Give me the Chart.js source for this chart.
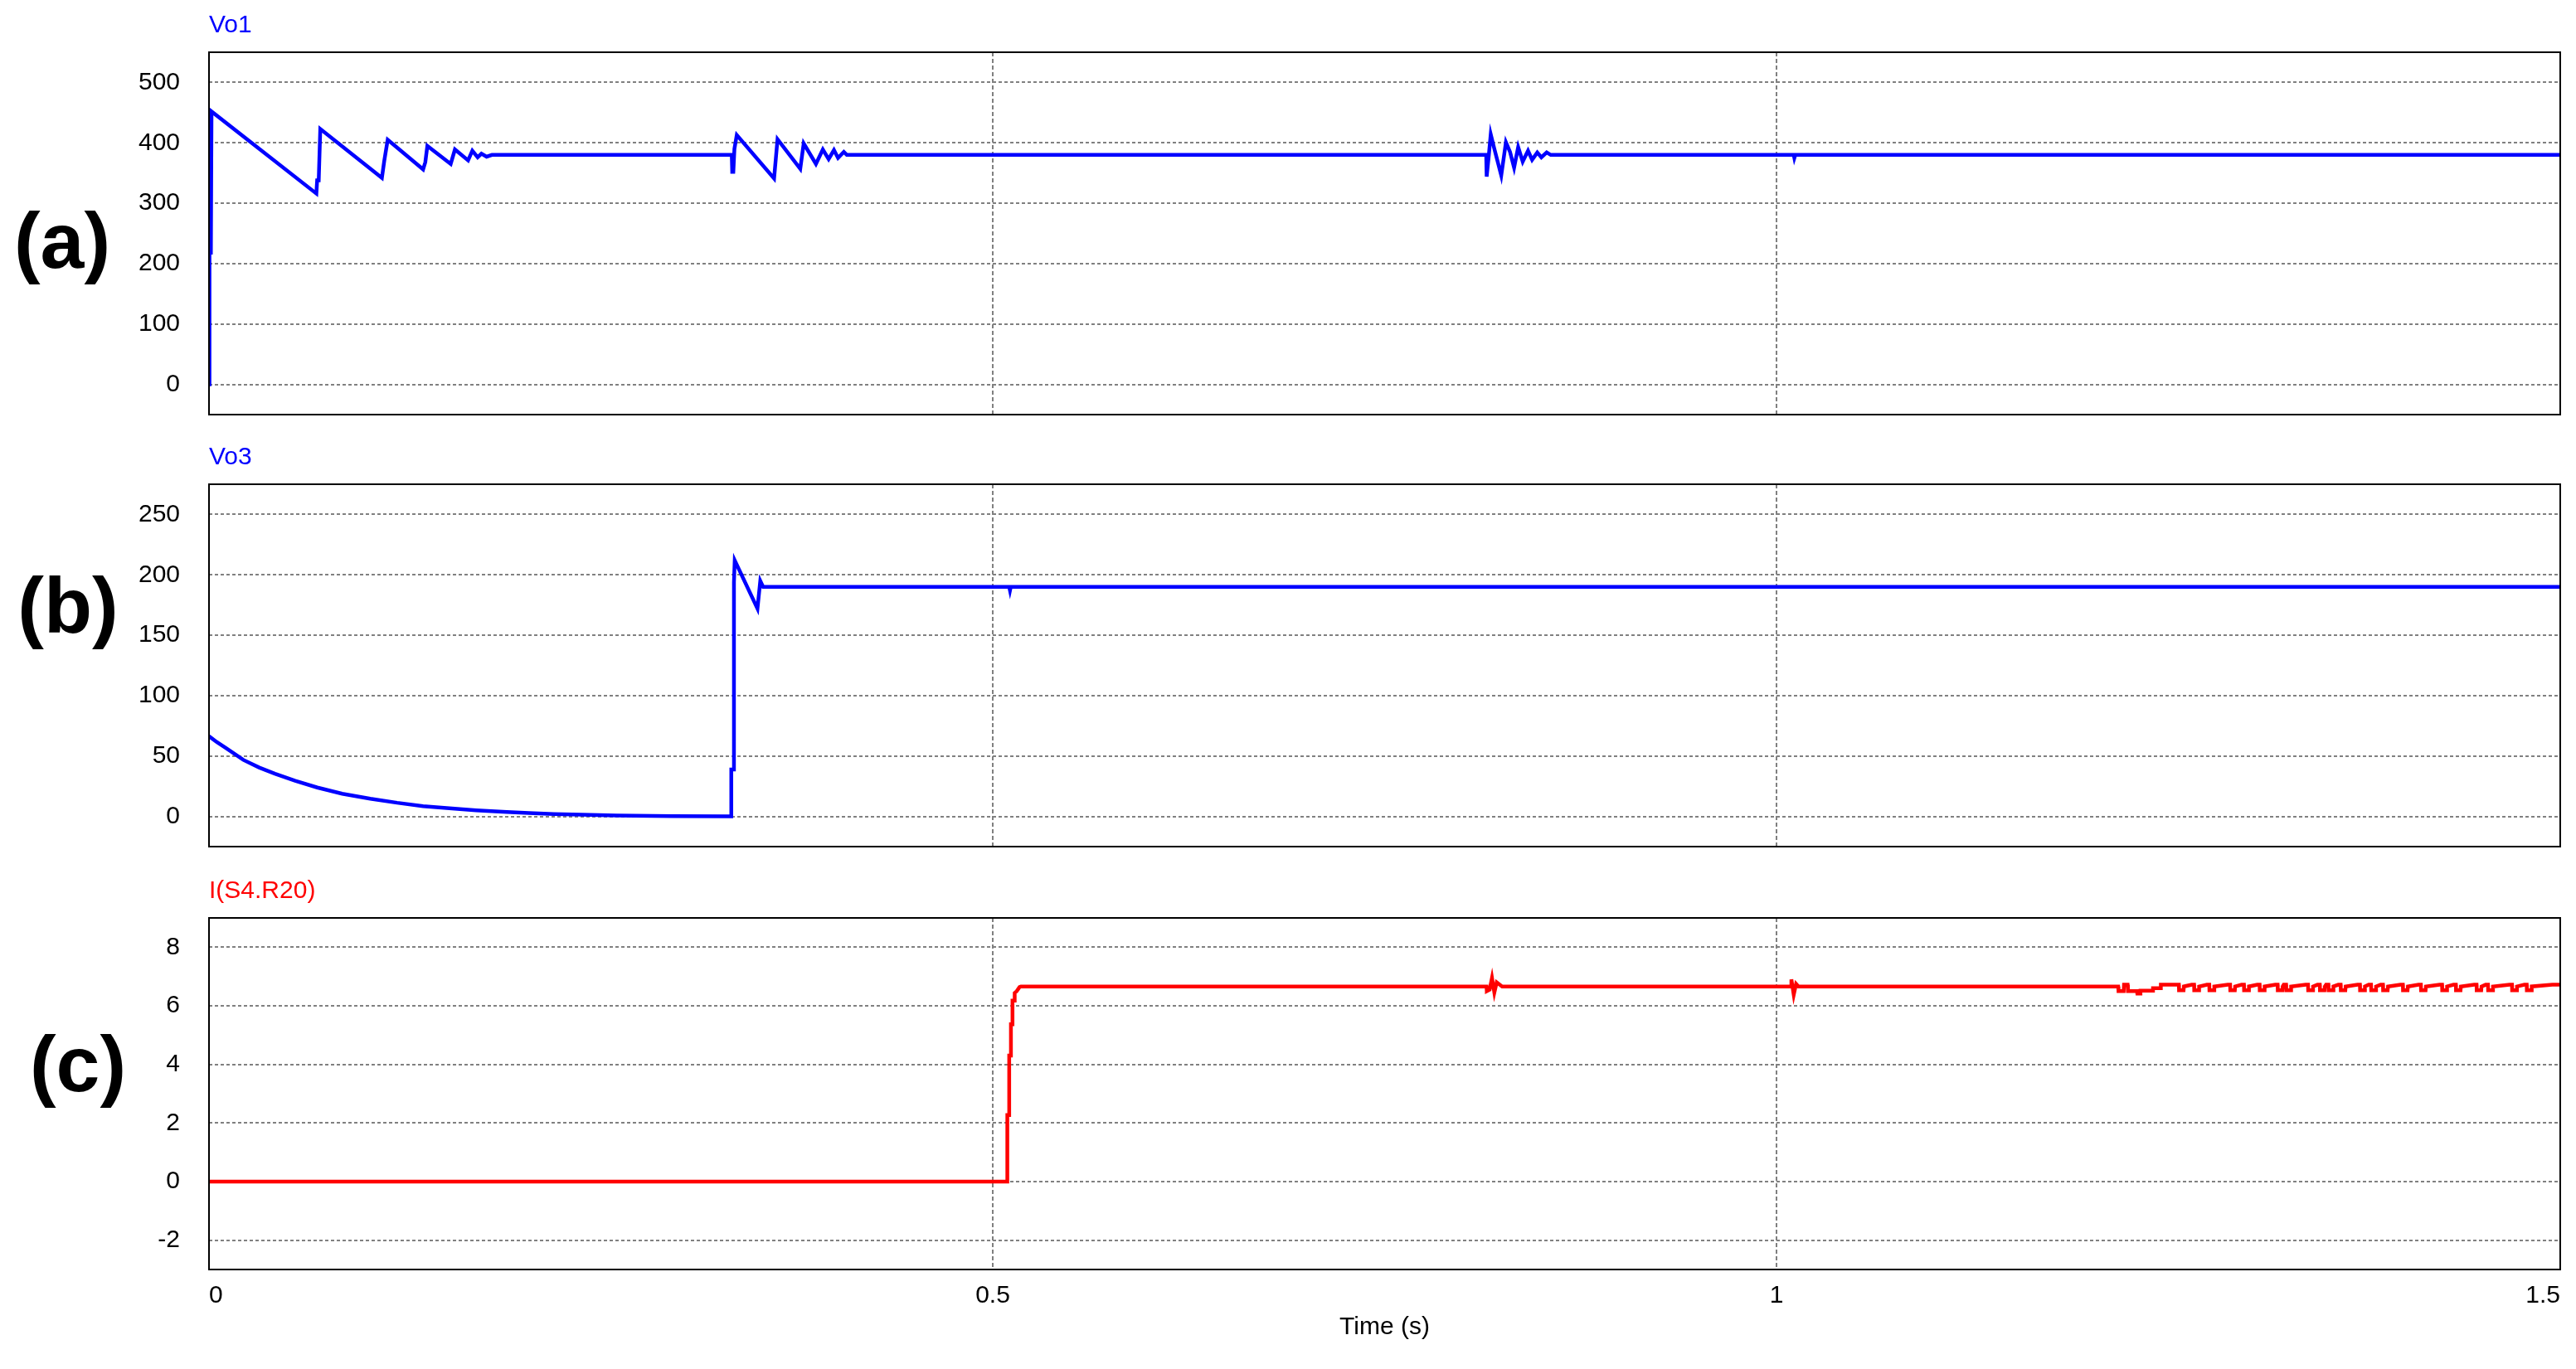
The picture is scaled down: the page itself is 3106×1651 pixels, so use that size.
<!DOCTYPE html>
<html>
<head>
<meta charset="utf-8">
<title>Vo1 / Vo3 / I(S4.R20)</title>
<script src="https://cdn.jsdelivr.net/npm/chart.js@4.4.1/dist/chart.umd.min.js"></script>
<style>
  html, body { margin: 0; padding: 0; background: #fff; }
  body { width: 3106px; height: 1651px; position: relative; overflow: hidden; }
  canvas { position: absolute; left: 0; }
</style>
</head>
<body>
<canvas id="chartA" width="3106" height="560" style="top:0px"></canvas>
<canvas id="chartB" width="3106" height="561" style="top:520px"></canvas>
<canvas id="chartC" width="3106" height="610" style="top:1041px"></canvas>
<script>
// time axis (s)
const timeTicks = [0, 0.5, 1, 1.5];

// y ticks per panel
const vo1Ticks = [0, 100, 200, 300, 400, 500];
const vo3Ticks = [0, 50, 100, 150, 200, 250];
const iTicks = [-2, 0, 2, 4, 6, 8];

const seriesNames = ['Vo1', 'Vo3', 'I(S4.R20)'];
const panelTags = ['(a)', '(b)', '(c)'];

// [time, value]
const vo1 = [
  [0, 0], [0.0003, 218], [0.0012, 218], [0.0016, 452], [0.0685, 316], [0.0690, 338], [0.0700, 338],
  [0.0710, 423], [0.1103, 342], [0.1118, 370], [0.1140, 405], [0.1366, 356], [0.1380, 368], [0.1393, 395],
  [0.1542, 365], [0.1569, 389], [0.1653, 371], [0.1680, 387], [0.1714, 376], [0.1738, 382], [0.1771, 377],
  [0.1805, 380],
  [0.3335, 380], [0.3338, 352], [0.3345, 352], [0.3352, 390], [0.3367, 413], [0.3605, 341], [0.3627, 406],
  [0.3772, 357], [0.3794, 399], [0.3872, 365], [0.3916, 389], [0.3953, 373], [0.3987, 388], [0.4013, 375],
  [0.4050, 385], [0.4069, 380],
  [0.8148, 380], [0.8151, 344], [0.8165, 380], [0.8177, 414], [0.8200, 390], [0.8244, 346], [0.8274, 401],
  [0.8300, 385], [0.8326, 359], [0.8352, 393], [0.8381, 369], [0.8415, 387], [0.8441, 372], [0.8474, 384],
  [0.8500, 376], [0.8534, 384], [0.8560, 380],
  [1.0110, 380], [1.0114, 375], [1.0120, 380], [1.5, 380]
];

const vo3 = [
  [0, 66.4], [0.005, 61.5], [0.011, 56.5], [0.0219, 46.8], [0.032, 40.5], [0.0421, 35.4], [0.055, 29.5],
  [0.0691, 23.9], [0.085, 18.8], [0.1029, 14.7], [0.12, 11.3], [0.1366, 8.5], [0.155, 6.5], [0.1704, 5.1],
  [0.19, 3.6], [0.2041, 2.8], [0.22, 2.0], [0.2378, 1.4], [0.26, 0.8], [0.2952, 0.2], [0.3331, 0],
  [0.3332, 38.8], [0.3345, 38.8], [0.3349, 194], [0.3354, 212], [0.3499, 172], [0.3517, 195], [0.3535, 190],
  [0.5105, 190], [0.5110, 187], [0.5115, 190], [1.5, 190]
];

const iS4 = [
  [0, 0], [0.5092, 0], [0.5093, 2.27], [0.5104, 2.27], [0.5105, 4.3], [0.5115, 4.3], [0.5116, 5.37],
  [0.5125, 5.37], [0.5126, 6.18], [0.5139, 6.18], [0.5140, 6.44], [0.5153, 6.5], [0.5171, 6.64], [0.5180, 6.66],
  [0.8150, 6.66], [0.8152, 6.50], [0.8170, 6.55], [0.8185, 6.95], [0.8200, 6.45], [0.8215, 6.80], [0.8250, 6.66],
  [1.0090, 6.66], [1.0095, 6.90], [1.0110, 6.38], [1.0125, 6.75], [1.0140, 6.66],
  [1.2180, 6.66], [1.2182, 6.50], [1.2215, 6.50], [1.2217, 6.72], [1.2240, 6.72], [1.2242, 6.50], [1.2300, 6.50],
  [1.2302, 6.42], [1.2320, 6.42], [1.2322, 6.52], [1.2400, 6.52], [1.2402, 6.60], [1.2450, 6.60], [1.2452, 6.72],
  [1.2530, 6.72],
  [1.2552, 6.72], [1.2567, 6.72], [1.2568, 6.53], [1.2597, 6.53], [1.2599, 6.66],
  [1.2649, 6.72], [1.2664, 6.72], [1.2665, 6.53], [1.2694, 6.53], [1.2696, 6.66],
  [1.2746, 6.72], [1.2761, 6.72], [1.2762, 6.53], [1.2791, 6.53], [1.2793, 6.66],
  [1.2879, 6.72], [1.2894, 6.72], [1.2895, 6.53], [1.2924, 6.53], [1.2926, 6.66],
  [1.2967, 6.72], [1.2982, 6.72], [1.2983, 6.53], [1.3012, 6.53], [1.3014, 6.66],
  [1.3067, 6.72], [1.3082, 6.72], [1.3083, 6.53], [1.3112, 6.53], [1.3114, 6.66],
  [1.3182, 6.72], [1.3197, 6.72], [1.3198, 6.53], [1.3227, 6.53], [1.3229, 6.66],
  [1.3236, 6.72], [1.3251, 6.72], [1.3252, 6.53], [1.3281, 6.53], [1.3283, 6.66],
  [1.3376, 6.72], [1.3391, 6.72], [1.3392, 6.53], [1.3421, 6.53], [1.3423, 6.66],
  [1.3451, 6.72], [1.3466, 6.72], [1.3467, 6.53], [1.3496, 6.53], [1.3498, 6.66],
  [1.3506, 6.72], [1.3521, 6.72], [1.3522, 6.53], [1.3551, 6.53], [1.3553, 6.66],
  [1.3584, 6.72], [1.3599, 6.72], [1.3600, 6.53], [1.3629, 6.53], [1.3631, 6.66],
  [1.3707, 6.72], [1.3722, 6.72], [1.3723, 6.53], [1.3752, 6.53], [1.3754, 6.66],
  [1.3778, 6.72], [1.3793, 6.72], [1.3794, 6.53], [1.3823, 6.53], [1.3825, 6.66],
  [1.3854, 6.72], [1.3869, 6.72], [1.3870, 6.53], [1.3899, 6.53], [1.3901, 6.66],
  [1.3981, 6.72], [1.3996, 6.72], [1.3997, 6.53], [1.4026, 6.53], [1.4028, 6.66],
  [1.4096, 6.72], [1.4111, 6.72], [1.4112, 6.53], [1.4141, 6.53], [1.4143, 6.66],
  [1.4231, 6.72], [1.4246, 6.72], [1.4247, 6.53], [1.4276, 6.53], [1.4278, 6.66],
  [1.4319, 6.72], [1.4334, 6.72], [1.4335, 6.53], [1.4364, 6.53], [1.4366, 6.66],
  [1.4451, 6.72], [1.4466, 6.72], [1.4467, 6.53], [1.4496, 6.53], [1.4498, 6.66],
  [1.4524, 6.72], [1.4539, 6.72], [1.4540, 6.53], [1.4569, 6.53], [1.4571, 6.66],
  [1.4677, 6.72], [1.4692, 6.72], [1.4693, 6.53], [1.4722, 6.53], [1.4724, 6.66],
  [1.4771, 6.72], [1.4786, 6.72], [1.4787, 6.53], [1.4816, 6.53], [1.4818, 6.66],
  [1.4950, 6.72], [1.5, 6.72]
];

const FONT = '"Liberation Sans", Arial, Helvetica, sans-serif';

// frame, trace name above the frame and the big panel letter
const panelDecor = {
  id: 'panelDecor',
  afterDraw(chart, args, opts) {
    const ctx = chart.ctx;
    const a = chart.chartArea;
    ctx.save();
    ctx.strokeStyle = '#000';
    ctx.lineWidth = 2;
    ctx.setLineDash([]);
    ctx.strokeRect(a.left, a.top, a.right - a.left, a.bottom - a.top);

    const ds = chart.data.datasets[0];
    ctx.font = '30px ' + FONT;
    ctx.fillStyle = ds.borderColor;
    ctx.textAlign = 'left';
    ctx.textBaseline = 'alphabetic';
    ctx.fillText(ds.label, a.left, a.top - 24);

    ctx.font = 'bold 95px ' + FONT;
    ctx.fillStyle = '#000';
    ctx.textAlign = 'center';
    ctx.fillText(opts.tag, opts.tagX, opts.tagY);
    ctx.restore();
  }
};

function makePanel(id, name, color, points, yMin, yMax, yTicks, tag, tagX, tagY, padTop, isBottom) {
  const ctx = document.getElementById(id).getContext('2d');
  return new Chart(ctx, {
    type: 'line',
    data: {
      datasets: [{
        label: name,
        data: points.map(p => ({ x: p[0], y: p[1] })),
        borderColor: color,
        borderWidth: 4.5,
        pointRadius: 0,
        tension: 0,
        fill: false
      }]
    },
    options: {
      responsive: false,
      animation: false,
      events: [],
      layout: { padding: { left: 0, right: 19, top: padTop, bottom: isBottom ? 0 : 60 } },
      plugins: {
        legend: { display: false },
        tooltip: { enabled: false },
        panelDecor: { tag: tag, tagX: tagX, tagY: tagY }
      },
      scales: {
        x: {
          type: 'linear',
          min: 0,
          max: 1.5,
          afterBuildTicks: s => { s.ticks = timeTicks.map(v => ({ value: v })); },
          afterFit: s => { s.height = isBottom ? 120 : 0; },
          grid: { color: '#808080', lineWidth: 2, drawTicks: false },
          border: { display: false, dash: [5, 3] },
          ticks: {
            display: isBottom,
            align: 'inner',
            padding: 14,
            color: '#000',
            font: { family: FONT, size: 30 },
            callback: v => String(v)
          },
          title: {
            display: isBottom,
            text: 'Time (s)',
            color: '#000',
            font: { family: FONT, size: 30 },
            padding: { top: 0, bottom: 32 }
          }
        },
        y: {
          min: yMin,
          max: yMax,
          afterBuildTicks: s => { s.ticks = yTicks.map(v => ({ value: v })); },
          afterFit: s => { s.width = 252; },
          grid: { color: '#808080', lineWidth: 2, drawTicks: false },
          border: { display: false, dash: [4, 3] },
          ticks: {
            padding: 35,
            color: '#000',
            font: { family: FONT, size: 30 },
            callback: v => String(v)
          }
        }
      }
    },
    plugins: [panelDecor]
  });
}

makePanel('chartA', seriesNames[0], '#0000ff', vo1, -50, 550, vo1Ticks, panelTags[0], 75, 323, 63, false);
makePanel('chartB', seriesNames[1], '#0000ff', vo3, -25, 275, vo3Ticks, panelTags[1], 82, 243, 64, false);
makePanel('chartC', seriesNames[2], '#ff0000', iS4, -3, 9, iTicks, panelTags[2], 94, 275, 66, true);
</script>
</body>
</html>
